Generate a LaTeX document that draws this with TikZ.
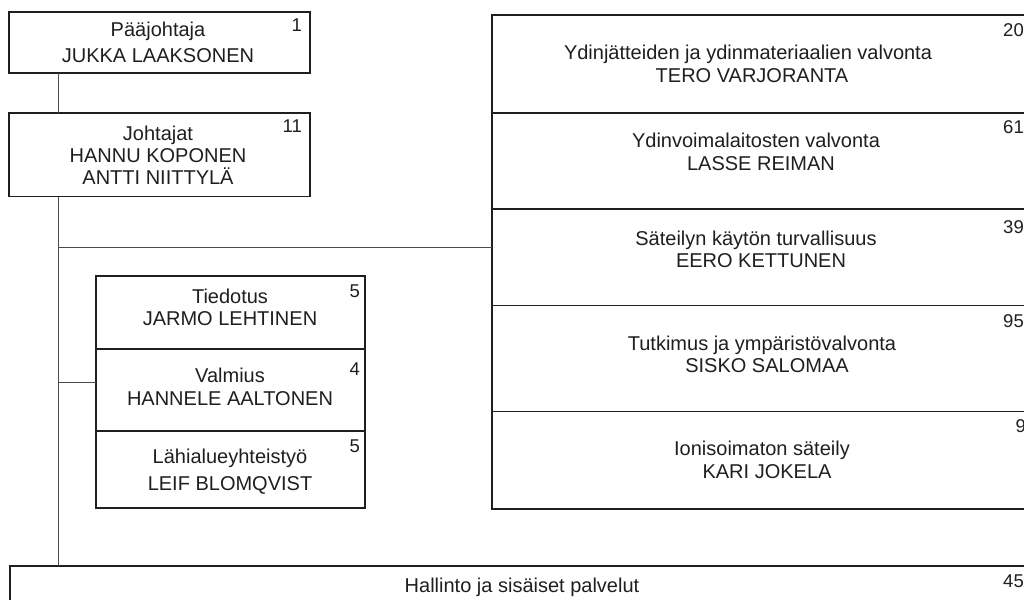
\documentclass[tikz,border=0pt]{standalone}
\usepackage{fontspec}
\setmainfont{Liberation Sans}
\begin{document}
\begin{tikzpicture}[x=1pt,y=-1pt,
  box/.style={draw=black!88, line width=1.6pt, inner sep=0pt, outer sep=0pt},
  txt/.style={anchor=base, font=\fontsize{20}{23}\selectfont, text=black!88, inner sep=0pt},
  num/.style={anchor=base east, font=\fontsize{18.5}{21}\selectfont, text=black!88, inner sep=0pt},
  conn/.style={draw=black!70, line width=1pt}]
\clip (0,0) rectangle (1024,599);
\fill[white] (0,0) rectangle (1024,599);

% left column
\node[box, minimum width=301pt, minimum height=61pt] (pj) at (159.5,42.5) {};
\node[txt] (pjt1) at (158,37) {Pääjohtaja};
\node[txt] (pjt2) at (158,63) {JUKKA LAAKSONEN};
\node[num] (pjn) at (302,32) {1};

\node[box, minimum width=301pt, minimum height=83.5pt] (jo) at (159.5,154.75) {};
\node[txt] (jot1) at (158,140) {Johtajat};
\node[txt] (jot2) at (158,162) {HANNU KOPONEN};
\node[txt] (jot3) at (158,184) {ANTTI NIITTYLÄ};
\node[num] (jon) at (302,132) {11};

% staff boxes
\node[box, minimum width=269pt, minimum height=73pt] (tied) at (230.5,312.5) {};
\node[txt] (tiedt1) at (230,303) {Tiedotus};
\node[txt] (tiedt2) at (230,325) {JARMO LEHTINEN};
\node[num] (tiedn) at (360,297) {5};

\node[box, minimum width=269pt, minimum height=82pt] (valm) at (230.5,390) {};
\node[txt] (valmt1) at (230,382) {Valmius};
\node[txt] (valmt2) at (230,405) {HANNELE AALTONEN};
\node[num] (valmn) at (360,375) {4};

\node[box, minimum width=269pt, minimum height=77pt] (lahi) at (230.5,469.5) {};
\node[txt] (lahit1) at (230,463) {Lähialueyhteistyö};
\node[txt] (lahit2) at (230,490) {LEIF BLOMQVIST};
\node[num] (lahin) at (360,452) {5};

% right column
\node[box, minimum width=538pt, minimum height=98pt] (r1) at (761,64) {};
\node[txt] (r1t1) at (748,60) {Ydinjätteiden ja ydinmateriaalien valvonta};
\node[txt] (r1t2) at (752,83) {TERO VARJORANTA};
\node[num] (r1n) at (1024,37) {20};

\node[box, minimum width=538pt, minimum height=96pt] (r2) at (761,161) {};
\node[txt] (r2t1) at (756,147) {Ydinvoimalaitosten valvonta};
\node[txt] (r2t2) at (761,170) {LASSE REIMAN};
\node[num] (r2n) at (1024,133) {61};

\node[box, minimum width=538pt, minimum height=96.5pt] (r3) at (761,257.25) {};
\node[txt] (r3t1) at (756,245) {Säteilyn käytön turvallisuus};
\node[txt] (r3t2) at (761,267) {EERO KETTUNEN};
\node[num] (r3n) at (1024,233) {39};

\node[box, minimum width=538pt, minimum height=106pt] (r4) at (761,358.5) {};
\node[txt] (r4t1) at (762,350) {Tutkimus ja ympäristövalvonta};
\node[txt] (r4t2) at (767,372) {SISKO SALOMAA};
\node[num] (r4n) at (1024,327) {95};

\node[box, minimum width=538pt, minimum height=97.5pt] (r5) at (761,460.25) {};
\node[txt] (r5t1) at (762,455) {Ionisoimaton säteily};
\node[txt] (r5t2) at (767,478) {KARI JOKELA};
\node[num] (r5n) at (1026,432) {9};

% bottom box
\node[box, minimum width=1024pt, minimum height=74pt] (hal) at (522,603) {};
\node[txt] (halt) at (522,592) {Hallinto ja sisäiset palvelut};
\node[num] (haln) at (1024,587) {45};

% connectors
\coordinate (trunk) at (58,0);
\coordinate (j1) at (58,247);
\coordinate (j2) at (58,382);
\draw[conn] (trunk |- pj.south) -- (trunk |- jo.north);
\draw[conn] (trunk |- jo.south) -- (trunk |- hal.north);
\draw[conn] (j1) -- (j1 -| r3.west);
\draw[conn] (j2) -- (j2 -| valm.west);
\end{tikzpicture}
\end{document}
